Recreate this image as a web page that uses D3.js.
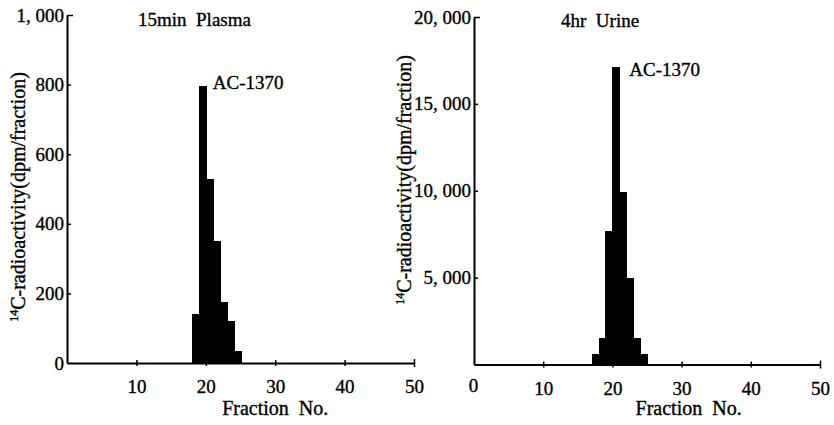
<!DOCTYPE html>
<html>
<head>
<meta charset="utf-8">
<script src="https://cdn.jsdelivr.net/npm/d3@7"></script>
<style>
  body { margin: 0; background: #fff; }
  svg text { font-family: 'Liberation Serif', 'DejaVu Serif', serif !important; fill: #000; stroke: #000; stroke-width: 0.35; }
</style>
</head>
<body>
<svg id="chart" width="834" height="425" font-family="Liberation Serif"></svg>
<script>
// fraction numbers and counts
const plasmaFractions = [18, 19, 20, 21, 22, 23, 24];
const plasmaDpm = [140, 795, 530, 350, 175, 120, 35];
const urineFractions = [17, 18, 19, 20, 21, 22, 23, 24];
const urineDpm = [600, 1500, 7700, 17100, 9900, 5000, 1500, 600];

const plasmaYTicks = [0, 200, 400, 600, 800, 1000];
const urineYTicks = [5000, 10000, 15000, 20000];
const plasmaXTicks = [10, 20, 30, 40, 50];
const urineXTicks = [0, 10, 20, 30, 40, 50];

const svg = d3.select('#chart');
const yLabel = 'C-radioactivity(dpm/fraction)';
const fmt = d => d >= 1000 ? d3.format(',')(d).replace(',', ', ') : String(d);

const panels = [
  {
    title: '15min  Plasma', titleX: 138, titleY: 26,
    fractions: plasmaFractions, values: plasmaDpm,
    yMax: 1000, yTicks: plasmaYTicks, xTicks: plasmaXTicks,
    x0: 67, x1: 414, y0: 363, y1: 15,
    yLabelX: 25, yLabelY: 197, xLabelDx: 0,
    peakDx: 7, peakDy: 3
  },
  {
    title: '4hr  Urine', titleX: 561, titleY: 27,
    fractions: urineFractions, values: urineDpm,
    yMax: 20000, yTicks: urineYTicks, xTicks: urineXTicks,
    x0: 474, x1: 820, y0: 364.5, y1: 17,
    yLabelX: 411, yLabelY: 180, xLabelDx: 7,
    peakDx: 10, peakDy: 9
  }
];

panels.forEach(p => {
  const x = d3.scaleLinear().domain([0, 50]).range([p.x0, p.x1]);
  const y = d3.scaleLinear().domain([0, p.yMax]).range([p.y0, p.y1]);
  const g = svg.append('g');

  const data = p.fractions.map((f, i) => ({ f, v: p.values[i] }));

  g.append('g')
    .attr('class', 'bars')
    .selectAll('rect')
    .data(data)
    .join('rect')
    .attr('x', d => x(d.f))
    .attr('width', d => x(d.f + 1) - x(d.f) + 1)
    .attr('y', d => y(d.v))
    .attr('height', d => y(0) - y(d.v))
    .attr('shape-rendering', 'crispEdges')
    .attr('fill', '#000');

  // x axis, ticks cross the line
  const xAxis = g.append('g')
    .attr('transform', `translate(0,${p.y0})`)
    .call(d3.axisBottom(x).tickValues(p.xTicks).tickSizeOuter(0).tickPadding(11));
  xAxis.attr('font-family', null).attr('font-size', null);
  xAxis.select('.domain').attr('stroke-width', 2);
  xAxis.selectAll('.tick line')
    .attr('y1', d => d === 50 ? -4 : -3)
    .attr('y2', d => d === 50 ? 4 : 3)
    .attr('stroke-width', 1.5);
  xAxis.selectAll('.tick line').filter(d => d === 0).remove();
  xAxis.selectAll('text')
    .attr('font-size', 19);
  // the 0 under the right panel sits a little higher in the scan
  xAxis.selectAll('.tick text').filter(d => d === 0)
    .attr('x', -1)
    .attr('y', 14);

  // y axis, ticks point inward
  const yAxis = g.append('g')
    .attr('transform', `translate(${p.x0},0)`)
    .call(d3.axisLeft(y).tickValues(p.yTicks).tickFormat(fmt)
      .tickSizeInner(-4).tickSizeOuter(0).tickPadding(3));
  yAxis.attr('font-family', null).attr('font-size', null);
  yAxis.select('.domain').attr('stroke-width', 2);
  yAxis.selectAll('.tick line')
    .attr('stroke-width', 1.5)
    .attr('x2', d => d === p.yMax ? 6 : 4);
  yAxis.selectAll('.tick line').filter(d => d === 0).remove();
  yAxis.selectAll('text')
    .attr('font-size', 19);

  g.append('text')
    .attr('x', p.titleX)
    .attr('y', p.titleY)
    .attr('font-size', 19)
    .style('white-space', 'pre')
    .text(p.title);

  const peak = data.reduce((a, b) => b.v > a.v ? b : a);
  g.append('text')
    .attr('x', x(peak.f + 1) + p.peakDx)
    .attr('y', y(peak.v) + p.peakDy)
    .attr('font-size', 19)
    .text('AC-1370');

  g.append('text')
    .attr('x', x(30) + p.xLabelDx)
    .attr('y', 415)
    .attr('text-anchor', 'middle')
    .attr('font-size', 20)
    .style('white-space', 'pre')
    .text('Fraction  No.');

  const yl = g.append('text')
    .attr('transform', `translate(${p.yLabelX},${p.yLabelY}) rotate(-90)`)
    .attr('text-anchor', 'middle')
    .attr('font-size', 20);
  yl.append('tspan').attr('font-size', 12).attr('dy', -7).text('14');
  yl.append('tspan').attr('dy', 7).text(yLabel);
});
</script>
</body>
</html>
